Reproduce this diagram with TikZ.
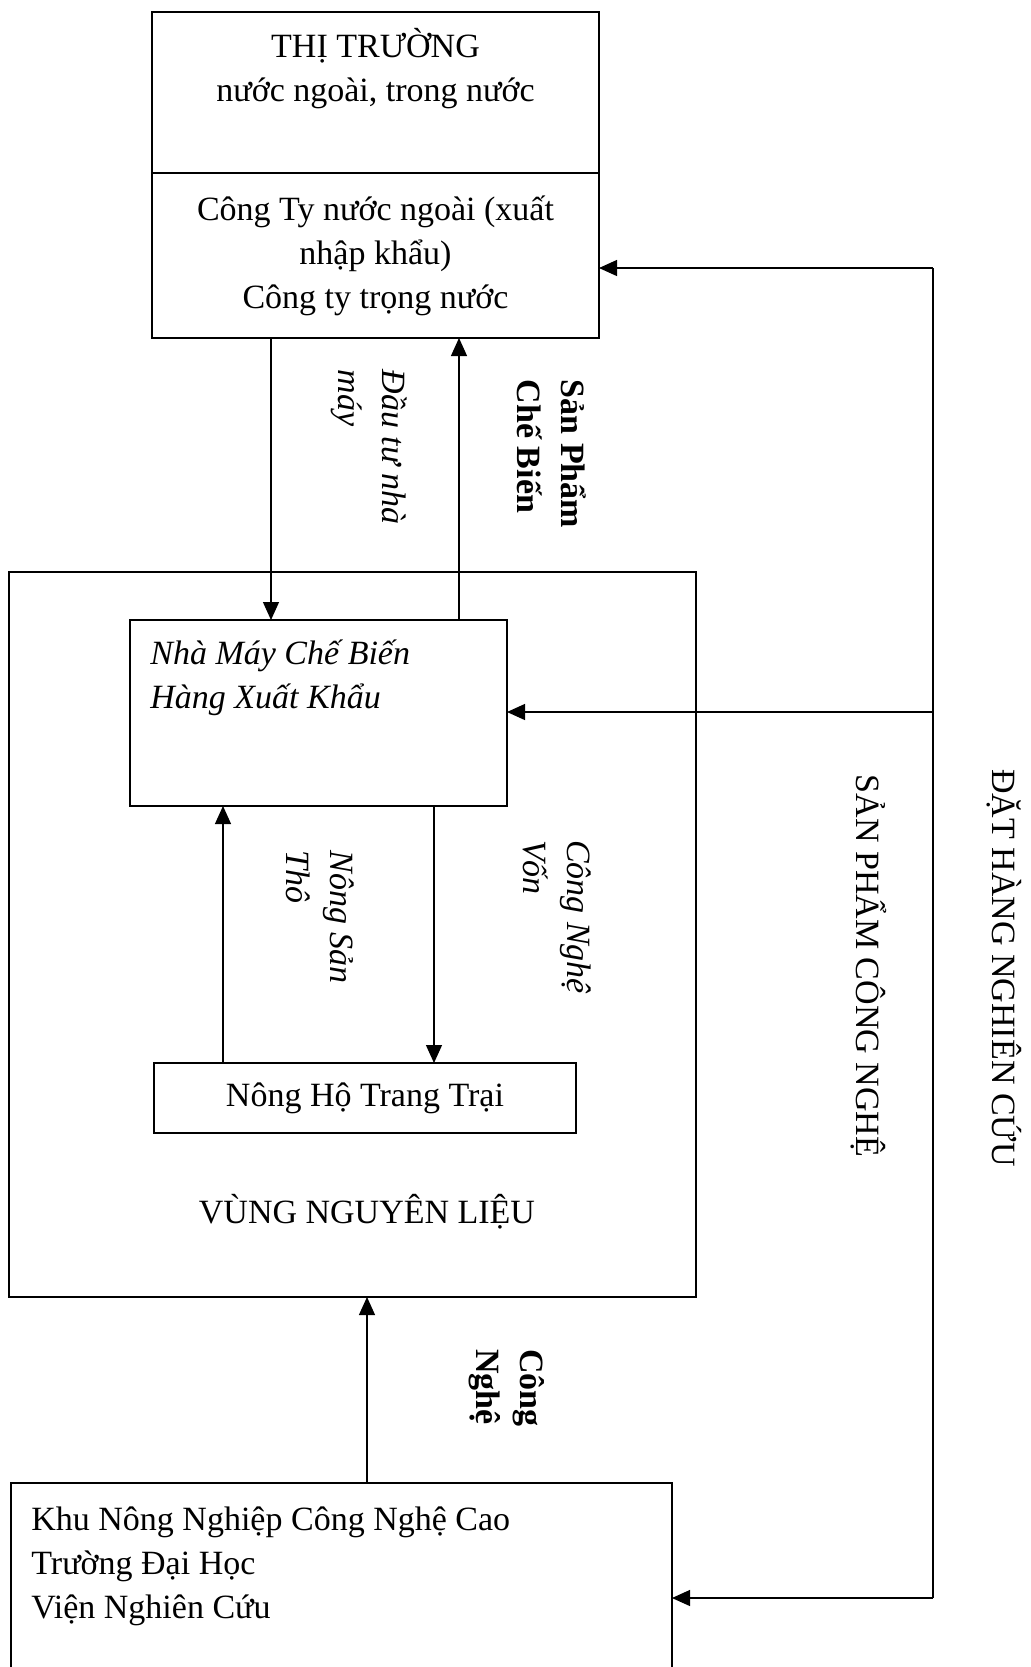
\documentclass[tikz,border=0pt]{standalone}
\usepackage{fontspec}
\setmainfont{Liberation Serif}
\usetikzlibrary{arrows.meta,positioning}

\begin{document}
\begin{tikzpicture}[
    x=0.5pt, y=-0.5pt,
    box/.style={draw, line width=0.9pt, inner sep=0pt, outer sep=0pt},
    txt/.style={font=\fontsize{17}{22}\selectfont, align=center, inner sep=0pt},
    itxt/.style={txt, font=\fontsize{17}{22}\selectfont\itshape},
    side/.style={txt, rotate=-90, align=left},
    bside/.style={side, font=\fontsize{17}{22}\selectfont\bfseries},
    iside/.style={itxt, rotate=-90, align=left},
    arr/.style={-{Triangle[length=9pt,width=8pt]}, line width=0.6pt},
    link/.style={line width=0.6pt}
  ]
  \useasboundingbox (0,0) rectangle (1031,1667);
  % Market and companies
  \node[box, minimum width=223.5pt, minimum height=80.5pt] (thitruong) at (375.5,92.5) {};
  \node[txt] (thitext) at (375.5,68.5) {THỊ TRƯỜNG\\nước ngoài, trong nước};
  \node[box, txt, minimum width=223.5pt, minimum height=82.5pt] (congty) at (375.5,255.5)
        {Công Ty nước ngoài (xuất\\nhập khẩu)\\Công ty trọng nước};
  % Raw material zone
  \node[box, minimum width=343.5pt, minimum height=362.5pt] (vung) at (352.5,934.5) {};
  \node[txt] (vungtext) at (367,1212) {VÙNG NGUYÊN LIỆU};
  \node[box, minimum width=188.5pt, minimum height=93pt] (nhamay) at (318.5,713) {};
  \node[itxt, align=left, anchor=west] (nmtext) at (150,678) {Nhà Máy Chế Biến\\Hàng Xuất Khẩu};
  \node[box, txt, minimum width=211pt, minimum height=35pt] (nongho) at (365,1098) {Nông Hộ Trang Trại};
  % Research side
  \node[box, minimum width=330.5pt, minimum height=95pt] (khu) at (341.5,1578) {};
  \node[txt, align=left, anchor=west] (khutext) at (31,1566)
        {Khu Nông Nghiệp Công Nghệ Cao\\Trường Đại Học\\Viện Nghiên Cứu};
  % Flows between boxes
  \draw[arr] (271,0 |- congty.south) -- (271,0 |- nhamay.north);
  \draw[arr] (459,0 |- nhamay.north) -- (459,0 |- congty.south);
  \draw[arr] (223,0 |- nongho.north) -- (223,0 |- nhamay.south);
  \draw[arr] (434,0 |- nhamay.south) -- (434,0 |- nongho.north);
  \draw[arr] (367,0 |- khu.north) -- (367,0 |- vung.south);
  % Feedback line on the right
  \coordinate (dtop) at (933,268);
  \coordinate (dmid) at (933,712);
  \coordinate (dbot) at (933,1598);
  \draw[link] (dtop) -- (dbot);
  \draw[arr] (dtop) -- (dtop -| congty.east);
  \draw[arr] (dmid) -- (dmid -| nhamay.east);
  \draw[arr] (dbot) -- (dbot -| khu.east);
  % Flow labels
  \node[iside] (dautu) at (369,447) {Đầu tư nhà\\máy};
  \node[bside] (sanpham) at (552,454) {Sản Phẩm\\Chế Biến};
  \node[iside] (nongsan) at (320,917) {Nông Sản\\Thô};
  \node[iside] (congnghevon) at (557,917) {Công Nghệ\\Vốn};
  \node[bside] (congnghe) at (507,1388) {Công\\Nghệ};
  \node[side] (spcn) at (869,966) {SẢN PHẨM CÔNG NGHỆ};
  \node[side] (dathang) at (1004,968) {ĐẶT HÀNG NGHIÊN CỨU};
\end{tikzpicture}
\end{document}
